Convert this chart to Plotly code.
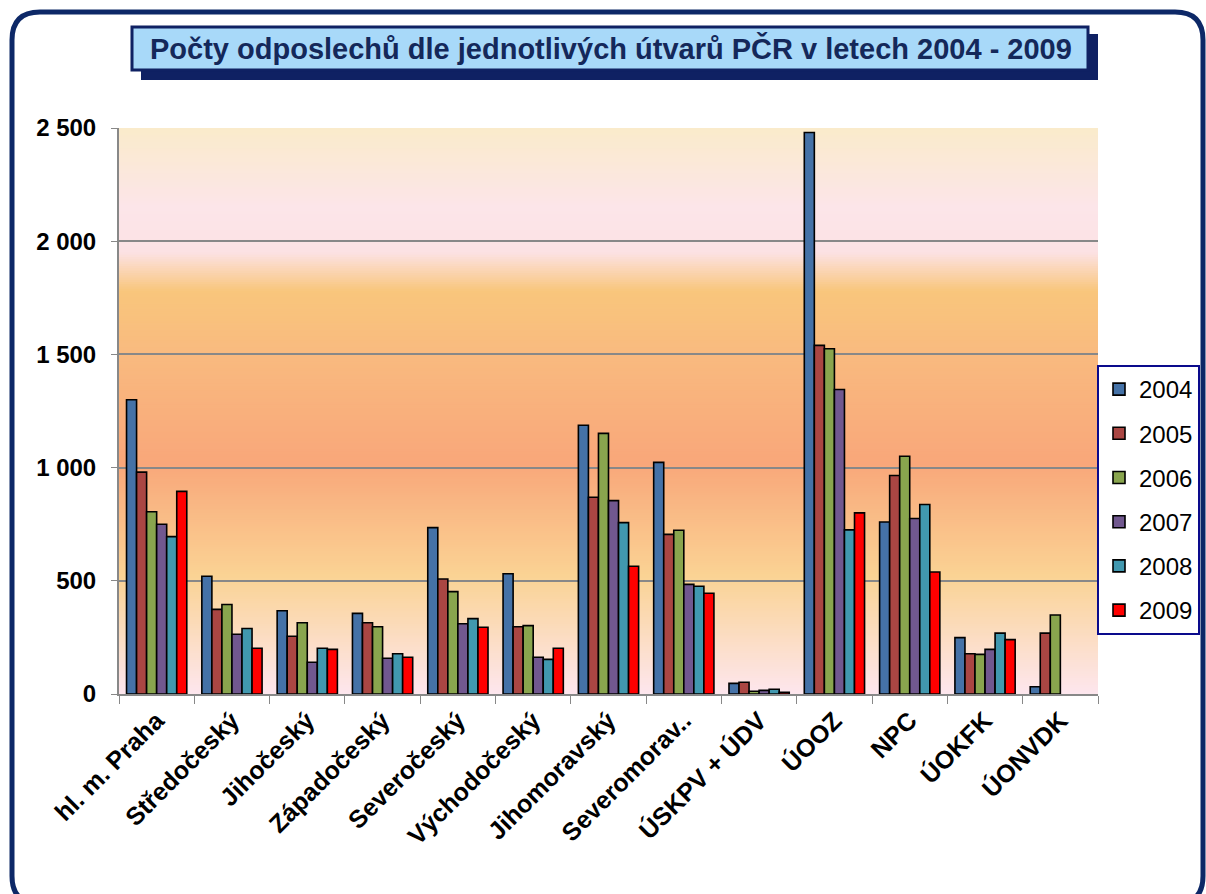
import plotly.graph_objects as go

# Police units (categories on the x axis)
units = [
    "hl. m. Praha", "Středočeský", "Jihočeský", "Západočeský", "Severočeský",
    "Východočeský", "Jihomoravský", "Severomorav..", "ÚSKPV + ÚDV", "ÚOOZ",
    "NPC", "ÚOKFK", "ÚONVDK",
]

# Number of wiretaps per unit and year
y2004 = [1300, 520, 368, 356, 735, 531, 1187, 1023, 47, 2480, 760, 249, 32]
y2005 = [980, 374, 255, 315, 508, 297, 869, 705, 52, 1540, 965, 178, 269]
y2006 = [805, 395, 315, 297, 452, 302, 1151, 723, 12, 1525, 1050, 175, 349]
y2007 = [750, 264, 140, 158, 310, 162, 854, 484, 16, 1345, 775, 197, None]
y2008 = [695, 289, 202, 178, 333, 153, 757, 476, 21, 725, 837, 269, None]
y2009 = [895, 202, 197, 162, 295, 202, 564, 445, 8, 800, 539, 240, None]

years = ["2004", "2005", "2006", "2007", "2008", "2009"]
series = [y2004, y2005, y2006, y2007, y2008, y2009]
colors = ["#4572A7", "#AA4643", "#89A54E", "#71588F", "#4198AF", "#FF0000"]

y_ticks = [0, 500, 1000, 1500, 2000, 2500]
y_tick_text = ["0", "500", "1 000", "1 500", "2 000", "2 500"]

title_text = "Počty odposlechů dle jednotlivých útvarů PČR v letech 2004 - 2009"

W, H = 1206, 894
ML, MR, MT, MB = 119, 108, 128, 200
PW, PH = W - ML - MR, H - MT - MB


def px(x):
    return (x - ML) / PW


def py(y):
    return (H - MB - y) / PH


fig = go.Figure()
for name, vals, col in zip(years, series, colors):
    fig.add_trace(go.Bar(
        name=name, x=units, y=vals, legendgroup=name,
        marker=dict(color=col, line=dict(color="#000000", width=1.6)),
    ))

# vertical colour gradient of the plot background
stops = [
    (0, (253, 230, 238)),
    (520, (250, 211, 148)),
    (1020, (249, 167, 122)),
    (1500, (249, 186, 127)),
    (1780, (249, 198, 124)),
    (1950, (252, 226, 228)),
    (2150, (252, 229, 233)),
    (2500, (250, 235, 203)),
]


def grad(v):
    for (a, ca), (b, cb) in zip(stops[:-1], stops[1:]):
        if a <= v <= b:
            t = (v - a) / (b - a)
            return "rgb(%d,%d,%d)" % tuple(round(ca[i] + (cb[i] - ca[i]) * t) for i in range(3))
    return "rgb(%d,%d,%d)" % stops[-1][1]


shapes = []
step = 10
for v in range(0, 2500, step):
    # strips overlap a little so no seams appear between them
    shapes.append(dict(
        type="rect", xref="paper", yref="y", x0=0, x1=1,
        y0=v, y1=min(v + step * 2, 2500),
        fillcolor=grad(v + step / 2), line=dict(width=0), layer="below",
    ))

# outer rounded frame
fl, ft, fr, fb, r = 12, 12, 1203, 904, 28
frame_path = (
    f"M {px(fl)},{py(ft + r)} "
    f"Q {px(fl)},{py(ft)} {px(fl + r)},{py(ft)} "
    f"L {px(fr - r)},{py(ft)} "
    f"Q {px(fr)},{py(ft)} {px(fr)},{py(ft + r)} "
    f"L {px(fr)},{py(fb - r)} "
    f"Q {px(fr)},{py(fb)} {px(fr - r)},{py(fb)} "
    f"L {px(fl + r)},{py(fb)} "
    f"Q {px(fl)},{py(fb)} {px(fl)},{py(fb - r)} Z"
)
shapes.append(dict(type="path", xref="paper", yref="paper", path=frame_path,
                   line=dict(color="#0D2867", width=5), layer="above"))

# title box with its drop shadow
shapes.append(dict(type="rect", xref="paper", yref="paper",
                   x0=px(141), x1=px(1098), y0=py(34), y1=py(80),
                   fillcolor="#0F2163", line=dict(width=0), layer="above"))
shapes.append(dict(type="rect", xref="paper", yref="paper",
                   x0=px(132), x1=px(1088), y0=py(27), y1=py(70),
                   fillcolor="#A8D9F9", line=dict(color="#0F2163", width=3), layer="above"))

fig.update_layout(
    width=W, height=H,
    margin=dict(l=ML, r=MR, t=MT, b=MB, autoexpand=False),
    paper_bgcolor="white", plot_bgcolor="white",
    barmode="group", bargap=0.2, bargroupgap=0,
    font=dict(family="Liberation Sans, Arial", color="#000000"),
    shapes=shapes,
    showlegend=True,
    legend=dict(
        x=px(1097), xanchor="left", y=py(365), yanchor="top",
        bgcolor="white", bordercolor="#0A0A8C", borderwidth=2,
        font=dict(size=24, family="Liberation Sans, Arial"),
        tracegroupgap=10, traceorder="grouped", itemwidth=30,
    ),
    annotations=[dict(
        text=title_text, xref="paper", yref="paper", x=px(611), y=py(48),
        xanchor="center", yanchor="middle", showarrow=False,
        font=dict(size=29, color="#14285A", family="Liberation Sans, Arial", weight="bold"),
    )],
    xaxis=dict(
        type="category", tickangle=-45, tickson="boundaries",
        ticks="outside", ticklen=8, tickcolor="#888888",
        showline=True, linecolor="#888888", linewidth=2, showgrid=False,
        tickfont=dict(size=25, family="Liberation Sans, Arial", weight="bold"),
    ),
    yaxis=dict(
        range=[0, 2500], tickvals=y_ticks, ticktext=y_tick_text,
        ticks="outside", ticklen=6, tickcolor="#888888",
        showline=True, linecolor="#888888", linewidth=2,
        showgrid=True, gridcolor="#888888", gridwidth=2,
        ticklabelstandoff=10, zeroline=False,
        tickfont=dict(size=24, family="Liberation Sans, Arial", weight="bold"),
    ),
)

fig.write_html("out.html")
